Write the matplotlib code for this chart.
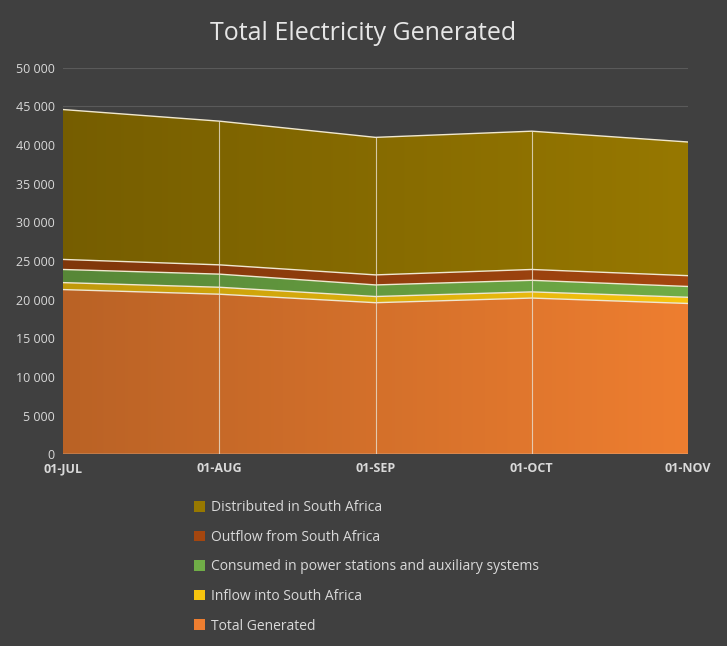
import matplotlib.pyplot as plt
import numpy as np
from matplotlib.patches import Patch
from matplotlib.colors import to_rgb

months = ["01-JUL", "01-AUG", "01-SEP", "01-OCT", "01-NOV"]
total_generated = [21300, 20700, 19600, 20200, 19500]
inflow = [900, 900, 800, 800, 800]
consumed = [1700, 1700, 1500, 1500, 1400]
outflow = [1300, 1200, 1300, 1400, 1400]
distributed = [19400, 18600, 17800, 17900, 17300]

series = [
    ("Total Generated", total_generated, "#EE7E30"),
    ("Inflow into South Africa", inflow, "#F6C40E"),
    ("Consumed in power stations and auxiliary systems", consumed, "#70AD47"),
    ("Outflow from South Africa", outflow, "#A4460F"),
    ("Distributed in South Africa", distributed, "#977800"),
]

plt.rcParams["font.family"] = ["Open Sans", "DejaVu Sans"]
bg = "#404040"
fig = plt.figure(figsize=(7.27, 6.46), dpi=100, facecolor=bg)
ax = fig.add_axes([63 / 727, 0.297, 625 / 727, 0.598], facecolor=bg)

x = np.arange(len(months))
n = len(months)
bottom = np.zeros(n)
for name, vals, col in series:
    top = bottom + np.array(vals)
    poly = ax.fill_between(x, bottom, top, color="none", linewidth=0, zorder=2)
    # horizontal gradient, darker on the left
    c = np.array(to_rgb(col))
    t = np.linspace(0, 1, 256)[None, :, None]
    grad = c * (0.78 + 0.22 * t)
    im = ax.imshow(np.repeat(grad, 2, axis=0), extent=[0, n - 1, 0, 50000],
                   aspect="auto", origin="lower", zorder=2)
    im.set_clip_path(poly.get_paths()[0], transform=ax.transData)
    ax.plot(x, top, color="#F0E8D0", linewidth=1, zorder=3)
    bottom = top

ax.vlines(x[1:-1], 0, bottom[1:-1], color="#E8E0D0", linewidth=0.8, alpha=0.8, zorder=4)

ax.set_xlim(0, n - 1)
ax.set_ylim(0, 50000)
ax.set_yticks(np.arange(0, 50001, 5000))
ax.set_yticklabels([f"{v:,}".replace(",", " ") for v in range(0, 50001, 5000)],
                   color="#D9D9D9", fontsize=9)
ax.set_xticks(x)
ax.set_xticklabels(months, color="#D9D9D9", fontsize=9, fontweight="bold")
ax.tick_params(length=0, pad=6)
ax.grid(axis="y", color="#5A5A5A", linewidth=0.8, zorder=0)
for s in ax.spines.values():
    s.set_visible(False)
ax.axhline(0, color="#D9D9D9", linewidth=1, zorder=5)

fig.suptitle("Total Electricity Generated", color="#E6E6E6", fontsize=18, y=0.968)

handles = [Patch(facecolor=c, edgecolor="none", label=nm) for nm, _, c in reversed(series)]
fig.legend(handles=handles, loc="upper left", bbox_to_anchor=(0.25, 0.245),
           frameon=False, labelcolor="#D9D9D9", fontsize=10,
           handlelength=0.8, handleheight=0.8, handletextpad=0.4, labelspacing=1.05)

fig.savefig("out.png", dpi=100, facecolor=bg)
